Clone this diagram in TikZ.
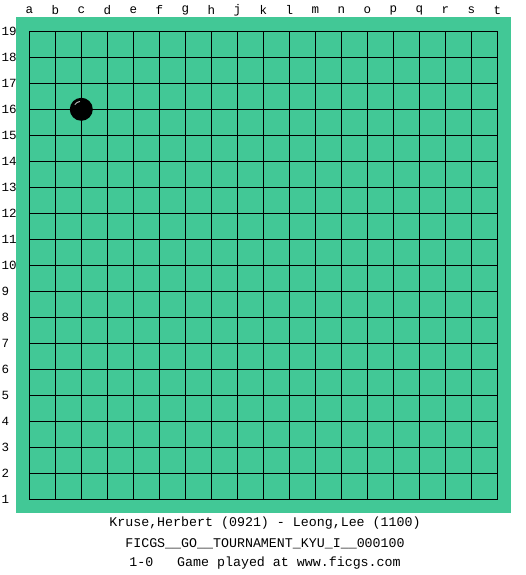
\documentclass[tikz,border=0pt]{standalone}
\usepackage{fontspec}
\setmonofont{Liberation Mono}
\usepackage{tikz}
\usetikzlibrary{positioning}
\definecolor{boardgreen}{RGB}{66,200,150}

\begin{document}
\begin{tikzpicture}[x=1pt, y=-1pt,
    lbl/.style={inner sep=0pt, font=\ttfamily\fontsize{12.5}{13}\selectfont},
    caption/.style={inner sep=0pt, font=\ttfamily\fontsize{13.3}{14}\selectfont},
    gridline/.style={line width=1pt, black, line cap=rect},
    stone/.style={circle, fill=black, minimum size=23pt, inner sep=0pt}
]
    \useasboundingbox (0,0) rectangle (525,575);
    \fill[boardgreen] (16,17) rectangle (511,513);
    % grid 19x19, spacing 26
    \foreach \i in {0,...,18} {
        \draw[gridline] (29.3+26*\i,31.3) -- (29.3+26*\i,499.3);
        \draw[gridline] (29.3,31.3+26*\i) -- (497.3,31.3+26*\i);
    }
    % column letters
    \foreach \c [count=\i from 0] in {a,b,c,d,e,f,g,h,j,k,l,m,n,o,p,q,r,s,t}
        \node[lbl] (col\c) at (29.3+26*\i,10) {\c};
    % row numbers
    \foreach \r [count=\i from 0] in {19,18,...,1}
        \node[lbl, anchor=west] (row\r) at (1.5,31.3+26*\i) {\r};
    % stone at c16
    \node[stone] (c16) at (81.3,109.3) {};
    \draw[gray!60, line width=1pt] ([shift={(260:8)}]c16.center) arc[start angle=260, end angle=215, radius=8];
    % caption
    \node[caption] (players) at (265,523.5) {Kruse,Herbert (0921) - Leong,Lee (1100)};
    \node[caption] (event) at (265,544) {FICGS\_\_GO\_\_TOURNAMENT\_KYU\_I\_\_000100};
    \node[caption] (result) at (265,563.5) {1-0\ \ \ Game played at www.ficgs.com};
\end{tikzpicture}
\end{document}
